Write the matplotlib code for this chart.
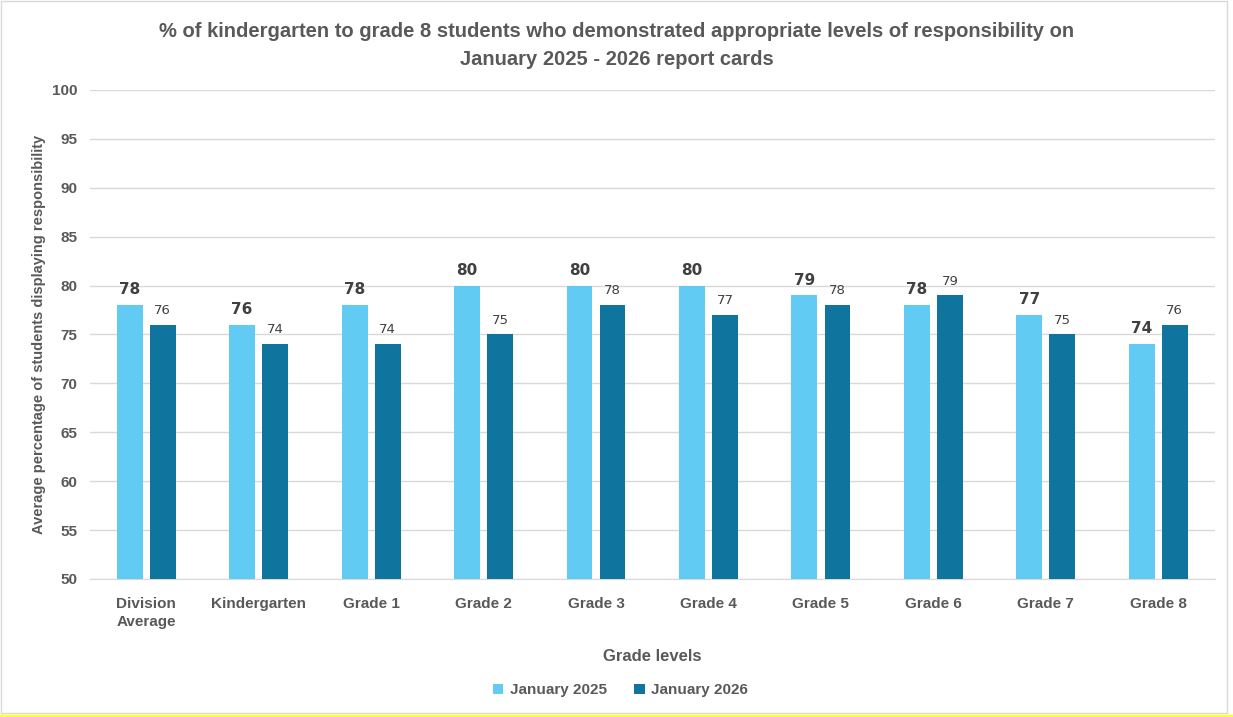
import numpy as np
import matplotlib.pyplot as plt
from matplotlib.patches import Rectangle
from matplotlib.lines import Line2D

plt.rcParams['font.family'] = ['Liberation Sans', 'DejaVu Sans']

categories = ['Division\nAverage', 'Kindergarten', 'Grade 1', 'Grade 2', 'Grade 3',
              'Grade 4', 'Grade 5', 'Grade 6', 'Grade 7', 'Grade 8']
jan_2025 = [78, 76, 78, 80, 80, 80, 79, 78, 77, 74]
jan_2026 = [76, 74, 74, 75, 78, 77, 78, 79, 75, 76]
series_names = ['January 2025', 'January 2026']

c_light = '#61CBF3'
c_dark = '#0F759F'
txt = '#595959'

fig = plt.figure(figsize=(12.33, 7.17), dpi=100)
ax = fig.add_axes([0.073, 0.1925, 0.912, 0.682])

x = np.arange(len(categories))
w = 0.23
off = 0.147
b1 = ax.bar(x - off, jan_2025, w, color=c_light, label=series_names[0], zorder=3)
b2 = ax.bar(x + off, jan_2026, w, color=c_dark, label=series_names[1], zorder=3)

for r, v in zip(b1, jan_2025):
    ax.text(r.get_x() + r.get_width() / 2, v + 0.8, str(v), ha='center', va='bottom',
            fontsize=11, fontweight='bold', color='#404040', family=['DejaVu Sans'])
for r, v in zip(b2, jan_2026):
    ax.text(r.get_x() + r.get_width() / 2, v + 0.8, str(v), ha='center', va='bottom',
            fontsize=9.5, color='#404040', family=['DejaVu Sans'])

ax.set_xlim(-0.5, len(categories) - 0.5)
ax.set_ylim(50, 100)
ax.set_yticks(range(50, 101, 5))
ax.set_xticks(x)
ax.set_xticklabels(categories, fontsize=11, fontweight='bold', color=txt, linespacing=1.4)
ax.tick_params(axis='both', length=0, labelsize=11, colors=txt)
for lbl in ax.get_yticklabels():
    lbl.set_fontweight('bold')
ax.tick_params(axis='x', pad=13)
ax.tick_params(axis='y', pad=9)
ax.grid(axis='y', color='#D9D9D9', linewidth=1, zorder=0)
for s in ['top', 'right', 'left']:
    ax.spines[s].set_visible(False)
ax.spines['bottom'].set_color('#D9D9D9')

ax.set_xlabel('Grade levels', fontsize=12, fontweight='bold', color=txt, labelpad=14)
ax.set_ylabel('Average percentage of students displaying responsibility', fontsize=10.5,
              fontweight='bold', color=txt, labelpad=4)

fig.text(0.5, 0.97, '% of kindergarten to grade 8 students who demonstrated appropriate levels of responsibility on\nJanuary 2025 - 2026 report cards',
         ha='center', va='top', fontsize=14.5, fontweight='bold', color=txt, linespacing=1.65)

leg = fig.legend(loc='center', bbox_to_anchor=(0.503, 0.037), ncol=2, frameon=False,
                 fontsize=11, handlelength=0.7, handleheight=0.7, handletextpad=0.4,
                 columnspacing=1.8)
for t in leg.get_texts():
    t.set_color(txt)
    t.set_fontweight('bold')

fig.patches.append(Rectangle((0.001, 0.006), 0.994, 0.992, transform=fig.transFigure,
                             fill=False, edgecolor='#D9D9D9', linewidth=1))
fig.lines.append(Line2D([0, 1], [0.002, 0.002], transform=fig.transFigure,
                        color='#FFFF33', linewidth=2.5))

fig.savefig('out.png', dpi=100)
